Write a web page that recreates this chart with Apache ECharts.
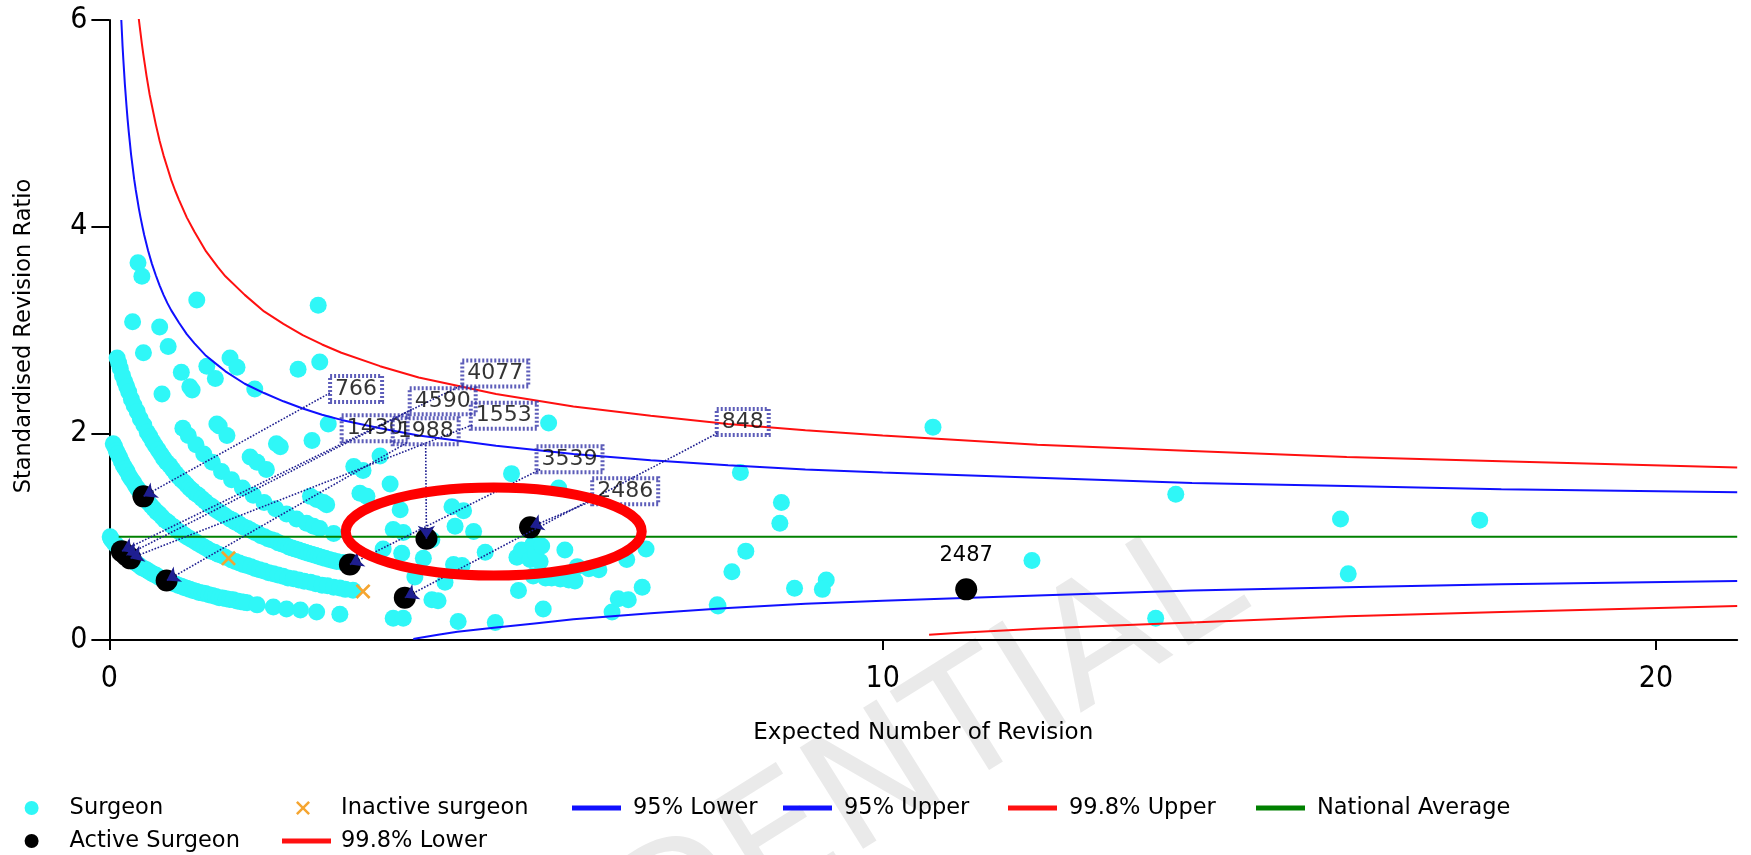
<!DOCTYPE html>
<html>
<head>
<meta charset="utf-8">
<title>Standardised Revision Ratio funnel plot</title>
<script src="https://cdn.jsdelivr.net/npm/echarts@6/dist/echarts.min.js"></script>
<style>
  html, body { margin: 0; padding: 0; background: #ffffff; }
  #chart { width: 1751px; height: 855px; }
</style>
</head>
<body>
<div id="chart"></div>
<script>
// ---- Data: [expected revisions, standardised revision ratio] ----

// Surgeons (cyan), grouped roughly by their arc on the plot
const surgeons = [
  // observed 0
  [0.01,1.00],[0.02,0.98],[0.03,0.97],[0.045,0.957],[0.06,0.94],[0.08,0.926],[0.10,0.91],[0.12,0.893],[0.14,0.88],
  [0.16,0.862],[0.18,0.85],[0.20,0.833],[0.23,0.813],[0.25,0.80],[0.27,0.79],[0.29,0.775],[0.32,0.76],[0.345,0.743],
  [0.37,0.73],[0.395,0.717],[0.42,0.70],[0.45,0.69],[0.48,0.68],[0.51,0.662],[0.54,0.65],[0.57,0.637],[0.60,0.63],
  [0.63,0.613],[0.66,0.60],[0.69,0.592],[0.72,0.58],[0.755,0.57],[0.79,0.56],[0.825,0.548],[0.86,0.54],[0.895,0.528],
  [0.93,0.52],[0.965,0.509],[1.00,0.50],[1.04,0.49],[1.08,0.48],[1.12,0.472],[1.16,0.46],[1.20,0.455],[1.24,0.45],
  [1.285,0.438],[1.33,0.43],[1.375,0.421],[1.42,0.41],[1.465,0.406],[1.51,0.40],[1.555,0.391],[1.60,0.39],
  [1.65,0.377],[1.70,0.37],[1.74,0.365],[1.78,0.36],[1.91,0.34],[2.12,0.32],[2.29,0.30],[2.47,0.29],[2.68,0.27],
  [2.98,0.25],[3.67,0.21],[3.80,0.21],[4.51,0.18],[4.99,0.17],
  // observed 1
  [0.05,1.90],[0.07,1.87],[0.09,1.83],[0.11,1.80],[0.13,1.77],[0.155,1.73],[0.18,1.69],[0.205,1.66],[0.23,1.63],
  [0.255,1.59],[0.28,1.56],[0.31,1.53],[0.34,1.49],[0.37,1.46],[0.40,1.43],[0.435,1.39],[0.47,1.36],[0.505,1.33],
  [0.54,1.30],[0.575,1.27],[0.61,1.24],[0.645,1.22],[0.68,1.19],[0.72,1.16],[0.76,1.14],[0.80,1.11],[0.84,1.09],
  [0.88,1.06],[0.92,1.04],[0.96,1.02],[1.00,1.00],[1.045,0.98],[1.09,0.96],[1.135,0.94],[1.18,0.92],[1.225,0.90],
  [1.27,0.88],[1.315,0.86],[1.36,0.85],[1.405,0.83],[1.45,0.82],[1.50,0.80],[1.58,0.775],[1.63,0.76],[1.68,0.746],
  [1.73,0.73],[1.78,0.72],[1.83,0.71],[1.885,0.693],[1.94,0.68],[2.00,0.667],[2.06,0.65],[2.12,0.641],[2.18,0.63],
  [2.245,0.616],[2.31,0.60],[2.38,0.592],[2.45,0.58],[2.52,0.568],[2.60,0.56],[2.67,0.545],[2.75,0.53],
  [2.82,0.524],[2.90,0.51],[2.98,0.503],[3.05,0.49],[3.15,0.482],[4.17,0.39],[4.25,0.38],[5.61,0.30],[6.50,0.27],
  // observed 2
  [0.10,2.73],[0.12,2.68],[0.14,2.63],[0.17,2.56],[0.20,2.50],[0.225,2.45],[0.25,2.40],[0.285,2.33],[0.32,2.27],
  [0.36,2.21],[0.40,2.14],[0.445,2.08],[0.49,2.01],[0.525,1.97],[0.56,1.92],[0.595,1.88],[0.63,1.84],[0.665,1.80],
  [0.70,1.76],[0.74,1.72],[0.78,1.69],[0.82,1.65],[0.86,1.61],[0.895,1.58],[0.93,1.55],[0.965,1.53],[1.00,1.50],
  [1.035,1.47],[1.07,1.45],[1.11,1.42],[1.15,1.40],[1.195,1.37],[1.24,1.34],[1.285,1.31],[1.33,1.29],[1.375,1.26],
  [1.42,1.24],[1.46,1.22],[1.50,1.20],[1.56,1.17],[1.595,1.16],[1.63,1.14],[1.665,1.13],[1.70,1.11],[1.745,1.09],
  [1.79,1.08],[1.835,1.06],[1.88,1.04],[1.92,1.03],[1.96,1.01],[2.005,1.00],[2.05,0.98],[2.095,0.97],[2.14,0.96],
  [2.185,0.94],[2.23,0.93],[2.275,0.92],[2.32,0.90],[2.36,0.89],[2.40,0.88],[2.445,0.87],[2.49,0.86],[2.53,0.85],
  [2.57,0.84],[2.615,0.83],[2.66,0.82],[2.70,0.81],[2.74,0.80],[2.79,0.79],[2.84,0.78],[2.89,0.77],[2.94,0.76],
  [3.02,0.75],[3.95,0.61],[4.34,0.56],[5.29,0.48],[6.58,0.40],[6.71,0.39],[7.86,0.34],[13.53,0.21],
  // observed 3
  [0.30,3.08],[0.44,2.78],[0.68,2.38],[0.95,2.05],[1.02,1.98],[1.12,1.89],[1.22,1.80],[1.33,1.72],[1.45,1.63],
  [1.58,1.55],[1.72,1.47],[1.86,1.40],[2.00,1.33],[2.15,1.27],[2.29,1.22],[2.42,1.17],[2.55,1.13],[2.64,1.10],
  [2.72,1.08],[2.90,1.03],[3.54,0.88],[3.78,0.84],[4.06,0.79],[4.45,0.73],[4.56,0.72],[5.48,0.62],[5.64,0.60],
  [5.72,0.60],[5.83,0.59],[5.94,0.58],[6.02,0.57],[6.89,0.51],
  // observed 4
  [0.37,3.65],[0.42,3.52],[0.65,3.03],[0.76,2.84],[0.93,2.59],[1.04,2.45],[1.07,2.42],[1.39,2.09],[1.42,2.07],
  [1.52,1.98],[1.82,1.77],[1.91,1.72],[2.03,1.65],[2.60,1.39],[2.68,1.36],[2.77,1.33],[2.81,1.31],[3.67,1.07],
  [3.80,1.04],[4.17,0.97],[4.86,0.85],[5.27,0.80],[5.33,0.87],[5.44,0.78],[5.57,0.76],[6.05,0.71],[6.20,0.69],
  [6.33,0.68],
  // observed 5
  [1.26,2.65],[1.37,2.53],[2.16,1.90],[2.21,1.87],[3.24,1.42],[3.33,1.39],[3.76,1.26],[4.47,1.10],[4.71,1.05],
  [5.48,0.93],[5.51,0.84],[5.59,0.91],[5.89,0.87],[6.69,0.78],
  // observed 6 and above
  [1.13,3.29],[1.56,2.73],[1.65,2.64],[1.88,2.43],[2.62,1.93],[3.16,1.68],[3.28,1.64],[3.63,1.51],[4.43,1.29],
  [4.58,1.25],[6.94,0.88],[2.83,2.09],[3.50,1.78],[2.44,2.62],[2.72,2.69],[2.70,3.24],[5.20,1.61],[5.81,1.47],
  [5.68,2.10],
  // larger practices
  [8.16,1.62],[8.69,1.33],[8.67,1.13],[8.23,0.86],[8.05,0.66],[7.87,0.33],[8.86,0.50],[9.27,0.58],[9.22,0.49],
  [10.65,2.06],[11.93,0.77],[13.79,1.41],[15.92,1.17],[16.02,0.64],[17.72,1.16]
];

const inactiveSurgeons = [[1.54,0.79],[3.28,0.47]];

// [surgeon id, expected, ratio]
const activeSurgeons = [
  ['766',0.44,1.39],['4077',0.16,0.86],['4590',0.22,0.82],['1553',0.27,0.79],['1430',0.74,0.575],
  ['1988',4.10,0.98],['3539',3.11,0.73],['848',3.82,0.41],['2486',5.44,1.09],['2487',11.08,0.49]
];

// Control limits
const ci95Upper = [[0.154,6.0],[0.165,5.83],[0.17,5.75],[0.18,5.62],[0.19,5.50],[0.20,5.38],[0.22,5.18],[0.235,5.04],
  [0.25,4.92],[0.265,4.81],[0.28,4.70],[0.30,4.58],[0.32,4.46],[0.34,4.36],[0.36,4.27],[0.38,4.18],[0.40,4.10],
  [0.43,3.99],[0.45,3.92],[0.50,3.77],[0.55,3.64],[0.60,3.53],[0.65,3.43],[0.70,3.34],[0.75,3.26],[0.80,3.19],
  [0.90,3.07],[1.00,2.96],[1.10,2.87],[1.25,2.75],[1.40,2.66],[1.50,2.60],[1.75,2.48],[2.00,2.39],[2.25,2.31],
  [2.50,2.24],[2.75,2.18],[3.00,2.13],[3.50,2.05],[4.00,1.98],[5.00,1.88],[6.00,1.80],[7.00,1.74],[8.00,1.69],
  [9.00,1.65],[10.0,1.62],[12.0,1.57],[14.0,1.52],[16.0,1.49],[18.0,1.46],[21.05,1.43]];
const ci95Lower = [[3.93,0.01],[4.0,0.02],[4.25,0.05],[4.5,0.08],[5.0,0.12],[5.5,0.16],[6.0,0.20],[7.0,0.26],
  [8.0,0.31],[9.0,0.35],[10,0.38],[12,0.43],[14,0.48],[16,0.51],[18,0.54],[21.05,0.57]];
const ci998Upper = [[0.38,6.01],[0.40,5.89],[0.42,5.77],[0.44,5.66],[0.46,5.56],[0.48,5.46],[0.50,5.37],[0.52,5.28],
  [0.55,5.17],[0.60,4.99],[0.65,4.83],[0.70,4.69],[0.75,4.57],[0.80,4.45],[0.85,4.35],[0.90,4.26],[1.00,4.09],
  [1.10,3.95],[1.25,3.76],[1.40,3.61],[1.50,3.52],[1.75,3.34],[2.00,3.18],[2.25,3.06],[2.50,2.95],[2.75,2.86],
  [3.00,2.78],[3.50,2.65],[4.00,2.54],[5.00,2.38],[6.00,2.26],[7.00,2.17],[8.00,2.09],[9.00,2.03],[10.0,1.98],
  [12.0,1.89],[14.0,1.83],[16.0,1.77],[18.0,1.73],[21.05,1.67]];
const ci998Lower = [[10.6,0.05],[11,0.07],[12,0.11],[13,0.14],[14,0.17],[16,0.23],[18,0.27],[21.05,0.33]];
const nationalAverage = [[0.12,1.0],[21.05,1.0]];

// Axis ticks
const xTicks = [0, 10, 20];
const yTicks = [0, 2, 4, 6];

// ---- Layout of the id call-outs (data units) ----
const calloutBox = {
  '766':[3.19,2.43], '4077':[4.99,2.58], '4590':[4.31,2.31], '1553':[5.10,2.17], '1430':[3.43,2.05],
  '1988':[4.09,2.02], '3539':[5.95,1.75], '2486':[6.67,1.44], '848':[8.19,2.11]
};
const calloutEnd = {
  '766':[2.85,2.39], '4077':[4.57,2.47], '4590':[3.91,2.23], '1553':[4.69,2.08], '1430':[3.85,1.91],
  '1988':[4.09,1.89], '3539':[5.57,1.65], '2486':[6.27,1.355], '848':[7.86,2.00]
};
const highlightCentre = [4.97, 1.05];

const FONT = "'DejaVu Sans', sans-serif";
const TICK_FONT = "'Liberation Sans Narrow', 'DejaVu Sans Condensed', 'DejaVu Sans', sans-serif";
const CYAN = '#2ff7f7', BLUE = '#1010ff', RED = '#ff1010', GREEN = '#008000', ORANGE = '#f5a530';
const CROSS = 'path://M2,0 L8,6 L14,0 L16,2 L10,8 L16,14 L14,16 L8,10 L2,16 L0,14 L6,8 L0,2 Z';

function limitLine(name, data, color) {
  return {
    name, type: 'line', data, color, itemStyle: { color },
    symbol: 'none', smooth: false, silent: true, z: 3,
    lineStyle: { color, width: 2 }
  };
}

function legendItem(name, left, top, icon, w, h, pad) {
  return {
    data: [{ name, icon }], left, top, padding: 0, itemWidth: w, itemHeight: h,
    selectedMode: false, orient: 'horizontal',
    textStyle: { fontFamily: FONT, fontSize: 22.5, color: '#000', lineHeight: 24, padding: [0, 0, 0, pad] }
  };
}

const chart = echarts.init(document.getElementById('chart'), null, { renderer: 'canvas' });

const row1 = 796, row2 = 829;

const option = {
  animation: false,
  backgroundColor: '#ffffff',
  grid: { left: 109.4, right: 13.8, top: 20, bottom: 215 },
  xAxis: {
    type: 'value', min: 0, max: 21.05, interval: 10,
    name: 'Expected Number of Revision', nameLocation: 'middle', nameGap: 82,
    nameTextStyle: { fontFamily: FONT, fontSize: 23, color: '#000' },
    axisLine: { show: true, onZero: false, lineStyle: { color: '#000', width: 2 } },
    axisTick: { show: true, length: 10, customValues: xTicks, lineStyle: { color: '#000', width: 2 } },
    axisLabel: { customValues: xTicks, fontFamily: TICK_FONT, fontSize: 30, color: '#000', margin: 24.5 },
    splitLine: { show: false }
  },
  yAxis: {
    type: 'value', min: 0, max: 6, interval: 2,
    name: 'Standardised Revision Ratio', nameLocation: 'middle', nameGap: 74, nameRotate: 90,
    nameTextStyle: { fontFamily: FONT, fontSize: 22.5, color: '#000', padding: [0, 12, 0, 0] },
    axisLine: { show: true, onZero: false, lineStyle: { color: '#000', width: 2 } },
    axisTick: { show: true, length: 18, customValues: yTicks, lineStyle: { color: '#000', width: 2 } },
    axisLabel: { customValues: yTicks, fontFamily: TICK_FONT, fontSize: 30, color: '#000', margin: 22 },
    splitLine: { show: false }
  },
  legend: [
    legendItem('Surgeon', 24.6, row1, 'circle', 14, 14, 26),
    legendItem('Inactive surgeon', 296, row1, CROSS, 14, 14, 26),
    legendItem('95% Lower', 572, row1, 'rect', 49, 5, 7),
    legendItem('95% Upper', 783, row1, 'rect', 49, 5, 7),
    legendItem('99.8% Upper', 1008, row1, 'rect', 49, 5, 7),
    legendItem('National Average', 1256, row1, 'rect', 49, 5, 7),
    legendItem('Active Surgeon', 24.6, row2, 'circle', 14, 14, 26),
    legendItem('99.8% Lower', 282, row2, 'rect', 49, 5, 5)
  ],
  series: [
    {
      name: 'Surgeon', type: 'scatter', data: surgeons, symbol: 'circle', symbolSize: 17,
      itemStyle: { color: CYAN, opacity: 1 }, z: 2, silent: true
    },
    {
      name: 'Inactive surgeon', type: 'scatter', data: inactiveSurgeons, symbol: CROSS, symbolSize: 15,
      itemStyle: { color: ORANGE, opacity: 1 }, z: 4, silent: true
    },
    limitLine('95% Lower', ci95Lower, BLUE),
    limitLine('95% Upper', ci95Upper, BLUE),
    limitLine('99.8% Upper', ci998Upper, RED),
    limitLine('National Average', nationalAverage, GREEN),
    {
      name: 'Active Surgeon', type: 'scatter', symbol: 'circle', symbolSize: 22, z: 5, silent: true,
      itemStyle: { color: '#000000', opacity: 1 },
      data: activeSurgeons.map(a => ({
        name: a[0], value: [a[1], a[2]],
        label: calloutBox[a[0]] ? { show: false } : {
          show: true, position: 'top', distance: 12, formatter: '{b}',
          fontFamily: FONT, fontSize: 21, color: '#000'
        }
      }))
    },
    limitLine('99.8% Lower', ci998Lower, RED),
    {
      name: 'callout-links', type: 'lines', coordinateSystem: 'cartesian2d', silent: true, z: 6,
      symbol: ['none', 'arrow'], symbolSize: 13,
      lineStyle: { color: '#1e1e90', width: 1.6, type: 'dotted', opacity: 1 },
      data: activeSurgeons.filter(a => calloutEnd[a[0]]).map(a => ({ coords: [calloutEnd[a[0]], [a[1], a[2]]] }))
    },
    {
      name: 'callout-labels', type: 'scatter', silent: true, z: 7, symbolSize: 1,
      itemStyle: { color: 'rgba(0,0,0,0)' },
      data: Object.keys(calloutBox).map(id => ({ name: id, value: calloutBox[id] })),
      label: {
        show: true, position: 'inside', formatter: '{b}',
        fontFamily: FONT, fontSize: 22, color: '#000', lineHeight: 22,
        backgroundColor: 'transparent',
        borderColor: '#3434a8', borderWidth: 2, borderType: [2, 2], padding: [3, 5, 1, 5]
      }
    }
  ]
};

chart.setOption(option);

// Highlight ring and watermark, placed through the grid's scales
const c = chart.convertToPixel({ gridIndex: 0 }, highlightCentre);
chart.setOption({
  graphic: [
    {
      type: 'text', z: -10, silent: true,
      x: 1273, y: 639, rotation: 32 * Math.PI / 180,
      style: {
        text: 'CONFIDENTIAL', fontSize: 164, fontFamily: FONT, fontWeight: 'normal',
        fill: '#eaeaea', align: 'right', verticalAlign: 'bottom'
      }
    },
    {
      type: 'ellipse', z: 100, silent: true,
      shape: { cx: c[0], cy: c[1], rx: 148, ry: 44 },
      style: { fill: null, stroke: '#ff0000', lineWidth: 10 }
    }
  ]
});
</script>
</body>
</html>
